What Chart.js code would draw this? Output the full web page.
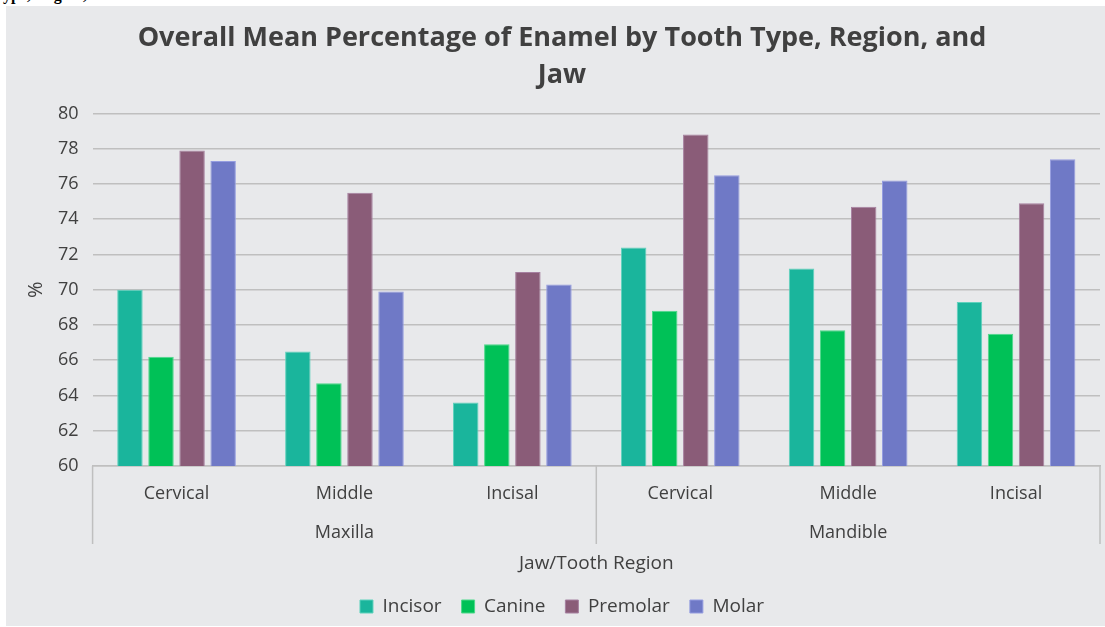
<!DOCTYPE html>
<html>
<head>
<meta charset="utf-8">
<script src="https://cdn.jsdelivr.net/npm/chart.js@4.4.1/dist/chart.umd.min.js"></script>
<style>
  body { margin: 0; background: #fff; width: 1105px; height: 627px; position: relative; overflow: hidden; }
  #cap { position: absolute; left: 0; top: 0; width: 1105px; height: 6px; overflow: hidden; }
  #cap span { position: absolute; left: 3px; top: -13px; font: bold 16px "Liberation Serif", serif; line-height: 16px; color: #000; white-space: nowrap; }
  #box { position: absolute; left: 6px; top: 6px; width: 1099px; height: 620px; background: #e8e9eb; }
</style>
</head>
<body>
<div id="cap"><span>ype, Region, and Jaw</span></div>
<div id="box"><canvas id="chart" width="1099" height="620"></canvas></div>
<script>
const regions = ["Cervical", "Middle", "Incisal", "Cervical", "Middle", "Incisal"];
const jaws = ["Maxilla", "Mandible"];
const incisor  = [70.0, 66.5, 63.6, 72.4, 71.2, 69.3];
const canine   = [66.2, 64.7, 66.9, 68.8, 67.7, 67.5];
const premolar = [77.9, 75.5, 71.0, 78.8, 74.7, 74.9];
const molar    = [77.3, 69.9, 70.3, 76.5, 76.2, 77.4];

const textColor = "#404040";
const lineColor = "#bfbfbf";
const font = "'Open Sans', sans-serif";

// vertical separators for the two-level category axis
const groupLines = {
  id: "groupLines",
  afterDraw(chart) {
    const ctx = chart.ctx;
    const area = chart.chartArea;
    const xs = [area.left, (area.left + area.right) / 2, area.right];
    ctx.save();
    ctx.strokeStyle = lineColor;
    ctx.lineWidth = 1.5;
    xs.forEach(x => {
      ctx.beginPath();
      ctx.moveTo(x, area.bottom);
      ctx.lineTo(x, area.bottom + 78);
      ctx.stroke();
    });
    ctx.restore();
  }
};

function ds(label, data, color, border) {
  return { label, data, backgroundColor: color, borderColor: border, borderWidth: 1,
           categoryPercentage: 0.74, barPercentage: 0.82, xAxisID: "x" };
}

new Chart(document.getElementById("chart"), {
  type: "bar",
  data: {
    labels: regions,
    datasets: [
      ds("Incisor", incisor, "#1ab59c", "#5fd2bd"),
      ds("Canine", canine, "#00c157", "#4cd98a"),
      ds("Premolar", premolar, "#8a5c78", "#a680a0"),
      ds("Molar", molar, "#6f79c6", "#959de0")
    ]
  },
  options: {
    responsive: false,
    animation: false,
    layout: { padding: { left: 18, right: 5, top: 8, bottom: 0 } },
    plugins: {
      title: {
        display: true,
        text: ["Overall Mean Percentage of Enamel by Tooth Type, Region, and", "Jaw"],
        color: textColor,
        font: { family: font, size: 27, weight: "bold", lineHeight: 1.36 },
        padding: { top: 6, bottom: 20 }
      },
      legend: {
        position: "bottom",
        labels: {
          color: textColor,
          font: { family: font, size: 19 },
          boxWidth: 13, boxHeight: 13, padding: 20
        }
      },
      tooltip: { enabled: false }
    },
    scales: {
      y: {
        min: 60, max: 80,
        ticks: { stepSize: 2, color: textColor, font: { family: font, size: 18 }, padding: 14 },
        grid: { color: lineColor, lineWidth: 1.5, drawTicks: false },
        border: { display: false },
        title: { display: true, text: "%", color: textColor, font: { family: font, size: 20 }, padding: { top: 0, bottom: -4 } }
      },
      x: {
        grid: { display: false },
        border: { display: true, color: lineColor, width: 1.5 },
        ticks: { color: textColor, font: { family: font, size: 18 }, padding: 9 }
      },
      x2: {
        type: "category",
        labels: jaws,
        position: "bottom",
        offset: true,
        grid: { display: false },
        border: { display: false },
        ticks: { color: textColor, font: { family: font, size: 18 }, padding: 0 },
        title: { display: true, text: "Jaw/Tooth Region", color: textColor, font: { family: font, size: 19 }, padding: { top: 9, bottom: 2 } }
      }
    }
  },
  plugins: [groupLines]
});
</script>
</body>
</html>
